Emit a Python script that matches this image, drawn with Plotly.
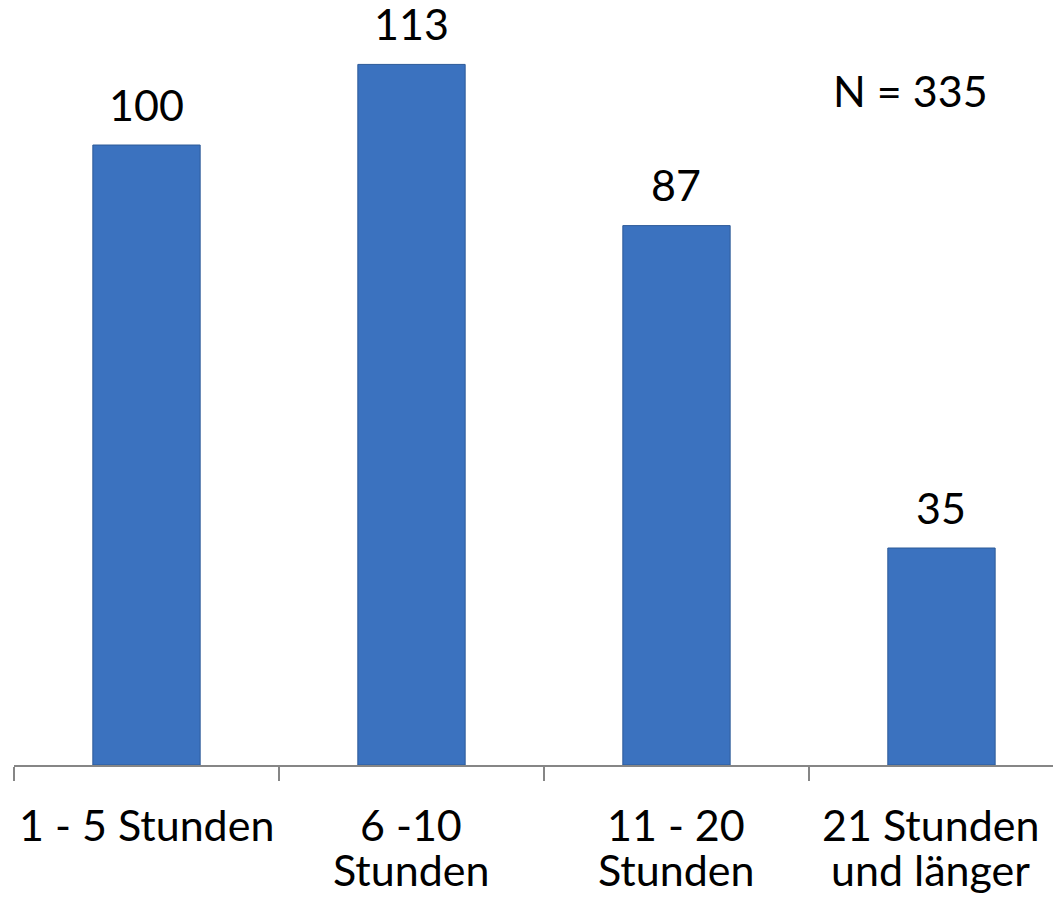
import plotly.graph_objects as go

categories = ["1 - 5 Stunden", "6 -10 Stunden", "11 - 20 Stunden", "21 Stunden und länger"]
label_line1 = ["1 - 5 Stunden", "6 -10", "11 - 20", "21 Stunden"]
label_line2 = ["", "Stunden", "Stunden", "und länger"]
values = [100, 113, 87, 35]
note = "N = 335"

FONT = "Lato"
FS = 43
label_xshift = [0, 0, 0, -11]

fig = go.Figure()
fig.add_trace(go.Bar(
    x=categories, y=values,
    marker=dict(color="#3b72bf", line=dict(color="#2d5a98", width=1)),
    width=0.405,
))

ann = []
for c, v in zip(categories, values):
    ann.append(dict(x=c, y=v, xref="x", yref="y", text=str(v), showarrow=False,
                    yanchor="middle", yshift=41, font=dict(family=FONT, size=FS, color="black")))
for c, l1, l2, xs in zip(categories, label_line1, label_line2, label_xshift):
    ann.append(dict(x=c, y=0, xref="x", yref="paper", text=l1, showarrow=False,
                    yanchor="middle", yshift=-59, xshift=xs,
                    font=dict(family=FONT, size=FS, color="black")))
    if l2:
        ann.append(dict(x=c, y=0, xref="x", yref="paper", text=l2, showarrow=False,
                        yanchor="middle", yshift=-104, xshift=xs,
                        font=dict(family=FONT, size=FS, color="black")))
ann.append(dict(x=0.856, y=0.891, xref="paper", yref="paper", text=note, showarrow=False,
                xanchor="center", yanchor="middle", font=dict(family=FONT, size=FS, color="black")))

fig.update_layout(
    width=1061, height=893,
    margin=dict(l=6, r=8, t=0, b=136),
    paper_bgcolor="white", plot_bgcolor="white",
    showlegend=False,
    annotations=ann,
    xaxis=dict(range=[-0.5, 3.451], showline=True, linecolor="#868686", linewidth=2,
               ticks="outside", tickson="boundaries", ticklen=14, tickwidth=2, tickcolor="#868686",
               showticklabels=False, showgrid=False, zeroline=False, fixedrange=True),
    yaxis=dict(range=[0, 122.1], visible=False, showgrid=False, zeroline=False),
)

fig.write_html("out.html")
